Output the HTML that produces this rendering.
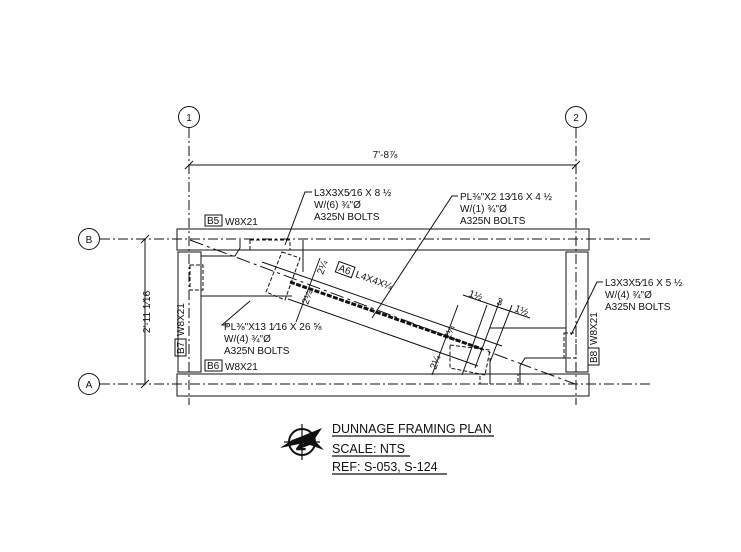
<!DOCTYPE html>
<html><head><meta charset="utf-8"><style>
body{margin:0;background:#fff}
svg{display:block}
text{font-family:"Liberation Sans",sans-serif;fill:#111}
</style></head><body>
<svg width="741" height="552" viewBox="0 0 741 552" xmlns="http://www.w3.org/2000/svg">
<g stroke="#111" fill="none" stroke-width="1">
<!-- grid lines -->
<g stroke-dasharray="10,3,2,3">
<line x1="189" y1="128" x2="189" y2="405"/>
<line x1="576" y1="128" x2="576" y2="405"/>
<line x1="100" y1="239" x2="650" y2="239"/>
<line x1="100" y1="384" x2="650" y2="384"/>
</g>
<circle cx="189" cy="117" r="10.5"/>
<circle cx="576" cy="117" r="10.5"/>
<circle cx="89" cy="239" r="10.5"/>
<circle cx="89" cy="384" r="10.5"/>
<!-- dims -->
<line x1="189" y1="165" x2="576" y2="165"/>
<line x1="185" y1="169" x2="193" y2="161"/>
<line x1="572" y1="169" x2="580" y2="161"/>
<line x1="145" y1="239" x2="145" y2="384"/>
<line x1="141" y1="243" x2="149" y2="235"/>
<line x1="141" y1="388" x2="149" y2="380"/>
<!-- beams -->
<rect x="177" y="229" width="412" height="21"/>
<rect x="177" y="374" width="412" height="22"/>
<rect x="178" y="252" width="23" height="120"/>
<rect x="566" y="252" width="22" height="120"/>
<!-- plates -->
<polyline points="201,256 235,256 240,248 240,240"/>
<line x1="201" y1="296" x2="292" y2="296"/>
<polyline points="566,328 490,328"/>
<polyline points="566,358 525,358 520,366 520,384"/>
<line x1="490" y1="358" x2="490" y2="384"/>
<line x1="303" y1="240" x2="303" y2="272"/>
<!-- dashed connection boxes -->
<g stroke-dasharray="4,2">
<rect x="250" y="240" width="40" height="10"/>
<rect x="190" y="265" width="13" height="25"/>
<rect x="480" y="374" width="38" height="10"/>
<rect x="564" y="333" width="12" height="25"/>
<polygon points="282,252 300,258 285,300 266,292"/>
<polygon points="450,345 490,350 485,375 450,368"/>
</g>
<!-- brace -->
<line x1="190" y1="240" x2="575" y2="384" stroke-dasharray="14,4,3,4"/>
<line x1="262" y1="262" x2="502" y2="346"/>
<line x1="288" y1="299" x2="478" y2="366"/>
<line x1="290" y1="282" x2="482" y2="349" stroke-width="3" stroke-dasharray="5,1.5"/>
<!-- dimension ticks -->
<line x1="320" y1="258" x2="296" y2="322"/>
<line x1="458" y1="305" x2="432" y2="375"/>
<line x1="487" y1="305" x2="462" y2="375"/>
<line x1="500" y1="300" x2="475" y2="368"/>
<line x1="512" y1="305" x2="490" y2="362"/>
<line x1="463" y1="295" x2="530" y2="318"/>
<!-- leaders -->
<polyline points="312,192 305,192 285,245"/>
<polyline points="458,196 452,196 372,318"/>
<polyline points="603,282 597,282 571,335"/>
<polyline points="228,325 222,325 250,301"/>
</g>
<g font-size="10">
<text x="189" y="121" text-anchor="middle">1</text>
<text x="576" y="121" text-anchor="middle">2</text>
<text x="89" y="243" text-anchor="middle">B</text>
<text x="89" y="388" text-anchor="middle">A</text>
<text x="385" y="158" text-anchor="middle">7'-8⅞</text>
<text transform="translate(150,312) rotate(-90)" text-anchor="middle">2'-11 1⁄16</text>
<rect x="205" y="215" width="17" height="11" fill="none" stroke="#111"/>
<text x="207" y="224">B5</text><text x="225" y="225">W8X21</text>
<rect x="205" y="360" width="17" height="11" fill="none" stroke="#111"/>
<text x="207" y="369">B6</text><text x="225" y="370">W8X21</text>
<g transform="translate(177,356) rotate(-90)"><rect x="0" y="-2" width="17" height="11" fill="none" stroke="#111"/><text x="2" y="7">B7</text><text x="20" y="7">W8X21</text></g>
<g transform="translate(598,365) rotate(-90)"><rect x="0" y="-10" width="17" height="11" fill="none" stroke="#111"/><text x="2" y="-1">B8</text><text x="20" y="-1">W8X21</text></g>
<text x="314" y="196">L3X3X5⁄16 X 8 ½</text>
<text x="314" y="208">W/(6) ¾"Ø</text>
<text x="314" y="220">A325N BOLTS</text>
<text x="460" y="200">PL⅜"X2 13⁄16 X 4 ½</text>
<text x="460" y="212">W/(1) ¾"Ø</text>
<text x="460" y="224">A325N BOLTS</text>
<text x="605" y="286">L3X3X5⁄16 X 5 ½</text>
<text x="605" y="298">W/(4) ¾"Ø</text>
<text x="605" y="310">A325N BOLTS</text>
<text x="224" y="330">PL⅜"X13 1⁄16 X 26 ⅝</text>
<text x="224" y="342">W/(4) ¾"Ø</text>
<text x="224" y="354">A325N BOLTS</text>
<g transform="translate(336,270) rotate(20)"><rect x="0" y="-9" width="17" height="11" fill="none" stroke="#111"/><text x="2" y="0">A6</text><text x="20" y="0">L4X4X¼</text></g>
<text transform="translate(323,275) rotate(-70)">2¼</text>
<text transform="translate(308,305) rotate(-70)">2¼</text>
<text transform="translate(450,340) rotate(-70)">2¼</text>
<text transform="translate(436,370) rotate(-70)">2¼</text>
<text transform="translate(468,296) rotate(20)">1½</text>
<text transform="translate(496,304) rotate(20)">3</text>
<text transform="translate(514,311) rotate(20)">1½</text>
</g>
<g font-size="12.5">
<text x="332" y="433">DUNNAGE FRAMING PLAN</text>
<text x="332" y="453">SCALE: NTS</text>
<text x="332" y="471">REF: S-053, S-124</text>
</g>
<g stroke="#111" stroke-width="1.2">
<line x1="332" y1="436" x2="494" y2="436"/>
<line x1="332" y1="456" x2="410" y2="456"/>
<line x1="332" y1="474" x2="447" y2="474"/>
<circle cx="302" cy="442" r="13" fill="none" stroke-width="2"/>
<line x1="302" y1="424" x2="302" y2="460"/>
<line x1="284" y1="442" x2="320" y2="442"/>
</g>
<polygon points="280,448 292,440 300,437 322,428 314,440 324,450 310,445 296,450 304,443" fill="#111"/>
<text x="296" y="450" font-size="16" font-weight="bold" fill="#fff" stroke="#111" stroke-width="0.6">Z</text>
</svg>
</body></html>
